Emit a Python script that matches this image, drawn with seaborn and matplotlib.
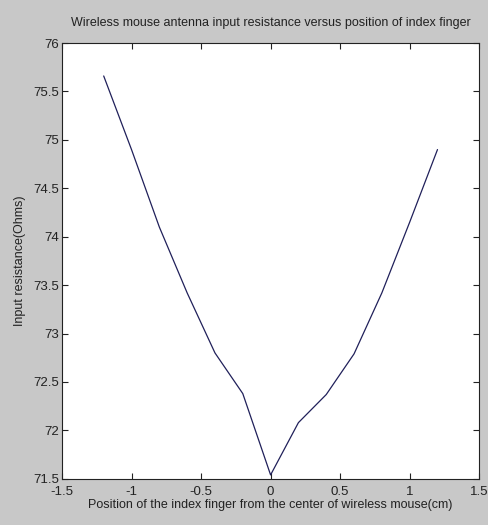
import numpy as np
import pandas as pd
import matplotlib
matplotlib.use("Agg")
import matplotlib.pyplot as plt
import seaborn as sns

# finger position (cm) and input resistance (Ohms)
position = [-1.2, -1.0, -0.8, -0.6, -0.4, -0.2, 0.0, 0.2, 0.4, 0.6, 0.8, 1.0, 1.2]
resistance = [75.66, 74.90, 74.10, 73.42, 72.80, 72.38, 71.54, 72.08, 72.37, 72.79, 73.42, 74.15, 74.90]

df = pd.DataFrame({"pos": position, "res": resistance})

sns.set_style("ticks")
plt.rcParams["font.family"] = ["Liberation Sans Narrow", "Liberation Sans", "DejaVu Sans"]

fig = plt.figure(figsize=(4.88, 5.25), dpi=100, facecolor="#c8c8c8")
ax = fig.add_axes([0.127, 0.088, 0.855, 0.830])
ax.set_facecolor("white")

sns.lineplot(data=df, x="pos", y="res", color="#20205a", linewidth=0.9, ax=ax)

ax.set_xlim(-1.5, 1.5)
ax.set_ylim(71.5, 76)
ax.set_xticks([-1.5, -1, -0.5, 0, 0.5, 1, 1.5])
ax.set_xticklabels(["-1.5", "-1", "-0.5", "0", "0.5", "1", "1.5"])
ax.set_yticks([71.5, 72, 72.5, 73, 73.5, 74, 74.5, 75, 75.5, 76])
ax.set_yticklabels(["71.5", "72", "72.5", "73", "73.5", "74", "74.5", "75", "75.5", "76"])
ax.tick_params(direction="in", top=True, right=True, length=4, width=0.8,
               labelsize=9.5, colors="#222222")
ax.tick_params(axis="x", pad=5)
ax.tick_params(axis="y", pad=2)
for s in ax.spines.values():
    s.set_visible(True)
    s.set_color("#222222")
    s.set_linewidth(0.8)

ax.set_xlabel("Position of the index finger from the center of wireless mouse(cm)",
              fontsize=9, color="#222222", labelpad=1)
ax.set_ylabel("Input resistance(Ohms)", fontsize=9, color="#222222", labelpad=5)
ax.set_title("Wireless mouse antenna input resistance versus position of index finger",
             fontsize=9, color="#222222", pad=12)

fig.savefig("out.png", dpi=100, facecolor=fig.get_facecolor())
